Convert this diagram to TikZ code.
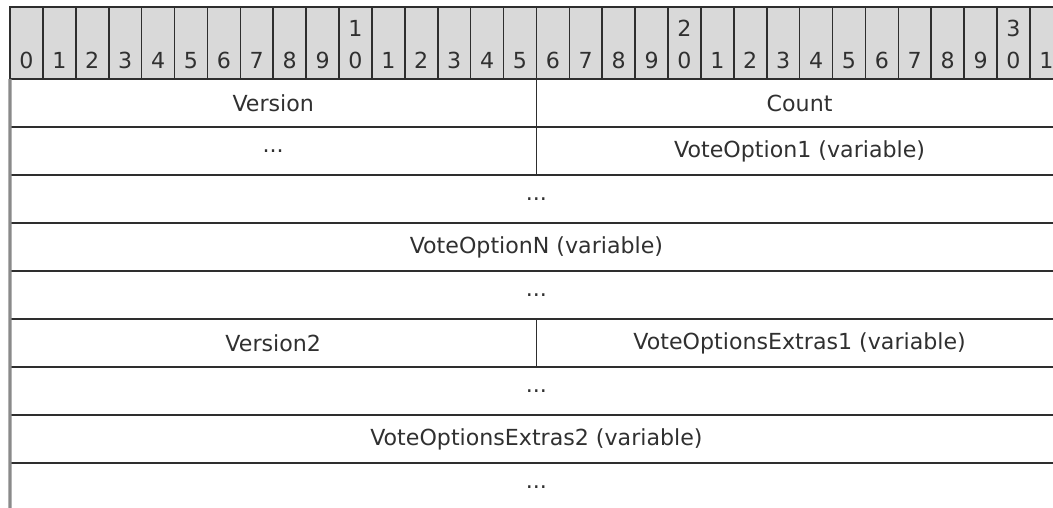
\documentclass[tikz,border=0pt]{standalone}
\usepackage{fontspec}
\setmainfont{DejaVu Sans}
\usetikzlibrary{positioning}

\definecolor{rule}{HTML}{2E2E2E}
\definecolor{hdr}{HTML}{D9D9D9}
\definecolor{ink}{HTML}{303030}
\definecolor{edge}{HTML}{8A8A8A}

\tikzset{
  bitcell/.style={draw=rule, fill=hdr, line width=1.2pt, minimum width=24.675pt,
    minimum height=54pt, inner sep=0pt, outer sep=0pt},
  bitnum/.style={anchor=base, inner sep=0pt, text=ink, font=\fontsize{16.6}{19}\selectfont},
  half/.style={draw=rule, line width=1.2pt, minimum width=394.8pt, minimum height=36pt,
    inner sep=0pt, outer sep=0pt, text=ink, font=\fontsize{16.6}{19}\selectfont},
  full/.style={half, minimum width=789.6pt},
}

\begin{document}
\begin{tikzpicture}[x=0.75pt,y=-0.75pt]
  \useasboundingbox (0,0) rectangle (1053,507);

  % Header bits
  \foreach \i in {0,...,31} {
    \node[bitcell, anchor=north west] (b\i) at ({10+32.9*\i},7) {};
    \pgfmathtruncatemacro\d{mod(\i,10)}
    \node[bitnum, yshift=8.25pt] (n\i) at (b\i.south) {\d};
  }
  \foreach \t in {1,2,3}
    \node[bitnum, yshift=32.25pt] (t\t) at (b\t0.south) {\t};

  % Fields
  \node[half, anchor=north west] (version) at (b0.south west) {Version};
  \node[half, right=0pt of version] (count) {Count};

  \node[half, below=0pt of version] (gap1) {...};
  \node[half, right=0pt of gap1] (opt1) {VoteOption1 (variable)};

  \node[full, below=0pt of gap1.south east] (gap2) {...};
  \node[full, below=0pt of gap2] (optn) {VoteOptionN (variable)};
  \node[full, below=0pt of optn] (gap3) {...};

  \node[half, below=0pt of gap3.south west, anchor=north west] (version2) {Version2};
  \node[half, right=0pt of version2] (extras1) {VoteOptionsExtras1 (variable)};

  \node[full, below=0pt of version2.south east] (gap4) {...};
  \node[full, below=0pt of gap4] (extras2) {VoteOptionsExtras2 (variable)};
  \node[full, below=0pt of extras2] (gap5) {...};

  % Left edge
  \draw[edge, line width=2.4pt] (version.north west) -- (gap5.south west);
\end{tikzpicture}
\end{document}
